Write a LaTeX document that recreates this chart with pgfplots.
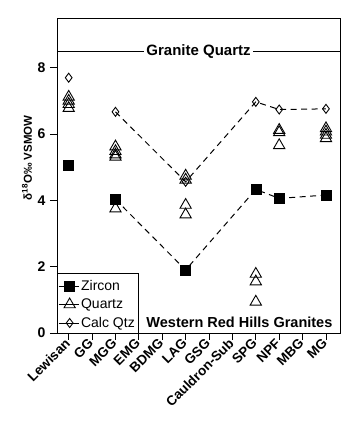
\documentclass[border=0pt]{standalone}
\usepackage{pgfplots}
\pgfplotsset{compat=1.18}
\usepackage{fontspec}
\setmainfont{Liberation Sans}
\begin{document}
\begin{tikzpicture}
\begin{axis}[
  name=ax,
  scale only axis,
  width=283pt, height=315pt,
  xmin=-0.5, xmax=11.6,
  ymin=0, ymax=9.5,
  xtick={0,1,2,3,4,5,6,7,8,9,10,11},
  xticklabels={Lewisan,GG,MGG,EMG,BDMG,LAG,GSG,Cauldron-Sub,SPG,NPF,MBG,MG},
  ytick={0,2,4,6,8},
  xtick pos=bottom, ytick pos=left,
  tick align=outside,
  major tick length=7pt,
  every tick/.style={black, line width=0.8pt},
  axis line style={line width=0.8pt},
  /pgf/number format/assume math mode=true,
  yticklabel style={font=\fontsize{14}{16}\selectfont\bfseries, xshift=-1pt},
  xticklabel style={font=\fontsize{13.5}{16}\selectfont\bfseries, rotate=45, anchor=east, inner sep=1.5pt},
  legend style={at={(axis cs:-0.5,0)}, anchor=south west, draw=none, fill=none,
    font=\fontsize{14}{16}\selectfont, inner xsep=1pt, inner ysep=2pt,
    row sep=3pt, legend cell align=left},
  legend image code/.code={\path (0,0) -- (20pt,0); \draw[#1] plot coordinates {(11pt,0pt)};},
  clip=false,
]
% Zircon
\addplot[only marks, mark=square*, mark size=5pt, black] coordinates {
  (0,5.06) (2,4.03) (5,1.9) (8,4.33) (9,4.06) (11,4.16)};
\addlegendentry{Zircon}
% Quartz
\addplot[only marks, mark=triangle, mark size=6.5pt, black, line width=0.9pt] coordinates {
  (0,7.12) (0,7.0) (0,6.9) (0,6.78)
  (2,5.62) (2,5.48) (2,5.38) (2,5.31) (2,3.75)
  (5,4.74) (5,4.62) (5,3.86) (5,3.57)
  (8,1.78) (8,1.55) (8,0.94)
  (9,6.12) (9,6.05) (9,5.66)
  (11,6.17) (11,6.07) (11,5.97) (11,5.87)};
\addlegendentry{Quartz}
% Calc Qtz
\addplot[only marks, mark=diamond, mark size=4.5pt, black, line width=0.9pt] coordinates {
  (0,7.7) (2,6.67) (5,4.56) (8,6.97) (9,6.74) (11,6.76)};
\addlegendentry{Calc Qtz}
% dashed lines
\addplot[black, line width=1pt, dash pattern=on 6pt off 4.5pt, forget plot] coordinates {
  (2,4.03) (5,1.9) (8,4.33) (9,4.06) (11,4.16)};
\addplot[black, line width=1pt, dash pattern=on 6pt off 4.5pt, forget plot] coordinates {
  (2,6.67) (5,4.56) (8,6.97) (9,6.74) (11,6.76)};
% Granite Quartz line
\draw[line width=0.8pt] (axis cs:-0.5,8.5) -- (axis cs:11.6,8.5);
\node[fill=white, inner xsep=2pt, font=\fontsize{15}{17}\selectfont\bfseries] at (axis description cs:0.5,0.8947) {Granite Quartz};
% legend box
\draw[line width=0.8pt] (axis cs:-0.5,1.8) -- (axis cs:3,1.8) -- (axis cs:3,0);
\node[font=\fontsize{14.5}{16}\selectfont\bfseries, anchor=center] at (axis cs:7.3,0.31) {Western Red Hills Granites};
% y label
\node[rotate=90, anchor=center, font=\fontsize{11.5}{13}\selectfont\bfseries] at (axis description cs:-0.106,0.556) {δ\textsuperscript{18}O‰ VSMOW};
\end{axis}
\pgfresetboundingbox
\path[use as bounding box] ([shift={(-57pt,-101pt)}]ax.south west) rectangle ([shift={(20pt,18pt)}]ax.north east);
\end{tikzpicture}
\end{document}
